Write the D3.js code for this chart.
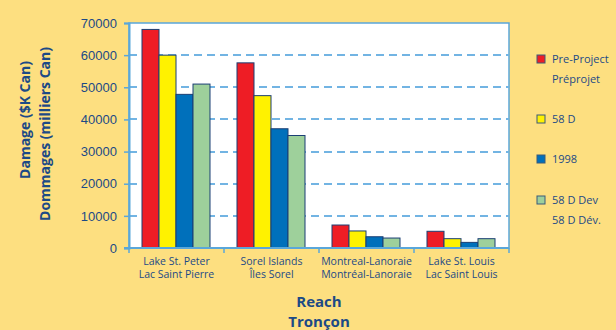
<!DOCTYPE html>
<html>
<head>
<meta charset="utf-8">
<script src="https://cdn.jsdelivr.net/npm/d3@7"></script>
<style>
    body { margin: 0; background: #fddf80; }
    svg { display: block; font-family: "Open Sans", "Noto Sans", sans-serif; }
</style>
</head>
<body>
<svg id="chart"></svg>
<script>
var width = 616;
var height = 330;

var reachesEn = ["Lake St. Peter", "Sorel Islands", "Montreal-Lanoraie", "Lake St. Louis"];
var reachesFr = ["Lac Saint Pierre", "Îles Sorel", "Montréal-Lanoraie", "Lac Saint Louis"];
var seriesNames = ["Pre-Project", "58 D", "1998", "58 D Dev"];
var seriesLabels = [["Pre-Project", "Préprojet"], ["58 D"], ["1998"], ["58 D Dev", "58 D Dév."]];
var seriesColors = ["#ee1d25", "#fff200", "#0070bb", "#9ed09b"];

var preProject = [68000, 57600, 7150, 5200];
var d58 = [60000, 47400, 5300, 2900];
var y1998 = [47800, 37100, 3500, 1750];
var d58Dev = [51000, 35000, 3100, 2900];

var yTicks = [0, 10000, 20000, 30000, 40000, 50000, 60000, 70000];

var values = [preProject, d58, y1998, d58Dev];

var margin = { top: 23, right: 107, bottom: 82, left: 129 };
var innerW = width - margin.left - margin.right;
var innerH = height - margin.top - margin.bottom;

var svg = d3.select("#chart")
    .attr("width", width)
    .attr("height", height);

var textColor = "#1c4a86";
var axisColor = "#5aa7da";

var g = svg.append("g")
    .attr("transform", "translate(" + margin.left + "," + margin.top + ")");

var x = d3.scaleBand()
    .domain(reachesEn)
    .range([0, innerW])
    .paddingInner(0)
    .paddingOuter(0);

var x1 = d3.scaleBand()
    .domain(seriesNames)
    .range([13, x.bandwidth() - 14]);

var y = d3.scaleLinear()
    .domain([0, 70000])
    .range([innerH, 0]);

// plot background
g.append("rect")
    .attr("width", innerW)
    .attr("height", innerH)
    .attr("fill", "#fff")
    .attr("stroke", axisColor)
    .attr("stroke-width", 1.5);

// dashed grid lines
g.selectAll(".grid")
    .data(yTicks.filter(function (d) { return d > 0 && d < 70000; }))
    .enter()
    .append("line")
    .attr("x1", 0)
    .attr("x2", innerW)
    .attr("y1", function (d) { return Math.round(y(d)); })
    .attr("y2", function (d) { return Math.round(y(d)); })
    .attr("stroke", "#72b4e3")
    .attr("stroke-width", 2)
    .attr("stroke-dasharray", "8,5");

// bars
var groups = g.selectAll(".reach")
    .data(reachesEn)
    .enter()
    .append("g")
    .attr("transform", function (d) { return "translate(" + x(d) + ",0)"; });

groups.selectAll("rect")
    .data(function (d, i) {
        return seriesNames.map(function (s, j) {
            return { series: s, value: values[j][i], color: seriesColors[j] };
        });
    })
    .enter()
    .append("rect")
    .attr("x", function (d) { return x1(d.series); })
    .attr("width", x1.bandwidth())
    .attr("y", function (d) { return y(d.value); })
    .attr("height", function (d) { return innerH - y(d.value); })
    .attr("fill", function (d) { return d.color; })
    .attr("stroke", "#1b3f74")
    .attr("stroke-width", 1);

// y axis
var yAxis = g.append("g")
    .call(d3.axisLeft(y).tickValues(yTicks).tickSize(5).tickFormat(function (d) { return d; }));
yAxis.select(".domain").attr("stroke", axisColor).attr("stroke-width", 2);
yAxis.selectAll(".tick line").attr("stroke", axisColor).attr("stroke-width", 1.5);
yAxis.selectAll(".tick text")
    .attr("fill", textColor)
    .attr("font-size", "13px")
    .attr("x", -12);

// x axis
var xAxis = g.append("g")
    .attr("transform", "translate(0," + innerH + ")");
xAxis.append("line")
    .attr("x1", -5)
    .attr("x2", innerW)
    .attr("stroke", axisColor)
    .attr("stroke-width", 2);
xAxis.selectAll(".xtick")
    .data(d3.range(reachesEn.length + 1))
    .enter()
    .append("line")
    .attr("x1", function (d) { return d * x.bandwidth(); })
    .attr("x2", function (d) { return d * x.bandwidth(); })
    .attr("y1", 0)
    .attr("y2", 5)
    .attr("stroke", axisColor)
    .attr("stroke-width", 1.5);

var xLabels = xAxis.selectAll(".xlabel")
    .data(reachesEn)
    .enter()
    .append("text")
    .attr("text-anchor", "middle")
    .attr("fill", textColor)
    .attr("font-size", "10.5px");
xLabels.append("tspan")
    .attr("x", function (d) { return x(d) + x.bandwidth() / 2; })
    .attr("y", 17)
    .text(function (d) { return d; });
xLabels.append("tspan")
    .attr("x", function (d) { return x(d) + x.bandwidth() / 2; })
    .attr("y", 30)
    .text(function (d, i) { return reachesFr[i]; });

// axis titles
svg.append("text")
    .attr("x", margin.left + innerW / 2)
    .attr("y", 307)
    .attr("text-anchor", "middle")
    .attr("fill", textColor)
    .attr("font-size", "15px")
    .attr("font-weight", "bold")
    .text("Reach");
svg.append("text")
    .attr("x", margin.left + innerW / 2)
    .attr("y", 327)
    .attr("text-anchor", "middle")
    .attr("fill", textColor)
    .attr("font-size", "15px")
    .attr("font-weight", "bold")
    .text("Tronçon");

svg.append("text")
    .attr("transform", "translate(30,120) rotate(-90)")
    .attr("text-anchor", "middle")
    .attr("fill", textColor)
    .attr("font-size", "14px")
    .attr("font-weight", "bold")
    .text("Damage ($K Can)");
svg.append("text")
    .attr("transform", "translate(50,134) rotate(-90)")
    .attr("text-anchor", "middle")
    .attr("fill", textColor)
    .attr("font-size", "14px")
    .attr("font-weight", "bold")
    .text("Dommages (milliers Can)");

// legend
var legendY = [59, 119, 159, 200];
var legend = svg.selectAll(".legend")
    .data(seriesNames)
    .enter()
    .append("g")
    .attr("transform", function (d, i) { return "translate(537," + legendY[i] + ")"; });

legend.append("rect")
    .attr("x", 0)
    .attr("y", -4)
    .attr("width", 8)
    .attr("height", 8)
    .attr("fill", function (d, i) { return seriesColors[i]; })
    .attr("stroke", "#3a5a7a")
    .attr("stroke-width", 1);

legend.each(function (d, i) {
    var sel = d3.select(this);
    seriesLabels[i].forEach(function (t, k) {
        sel.append("text")
            .attr("x", 15)
            .attr("y", 4 + k * 20)
            .attr("fill", textColor)
            .attr("font-size", "11px")
            .text(t);
    });
});
</script>
</body>
</html>
